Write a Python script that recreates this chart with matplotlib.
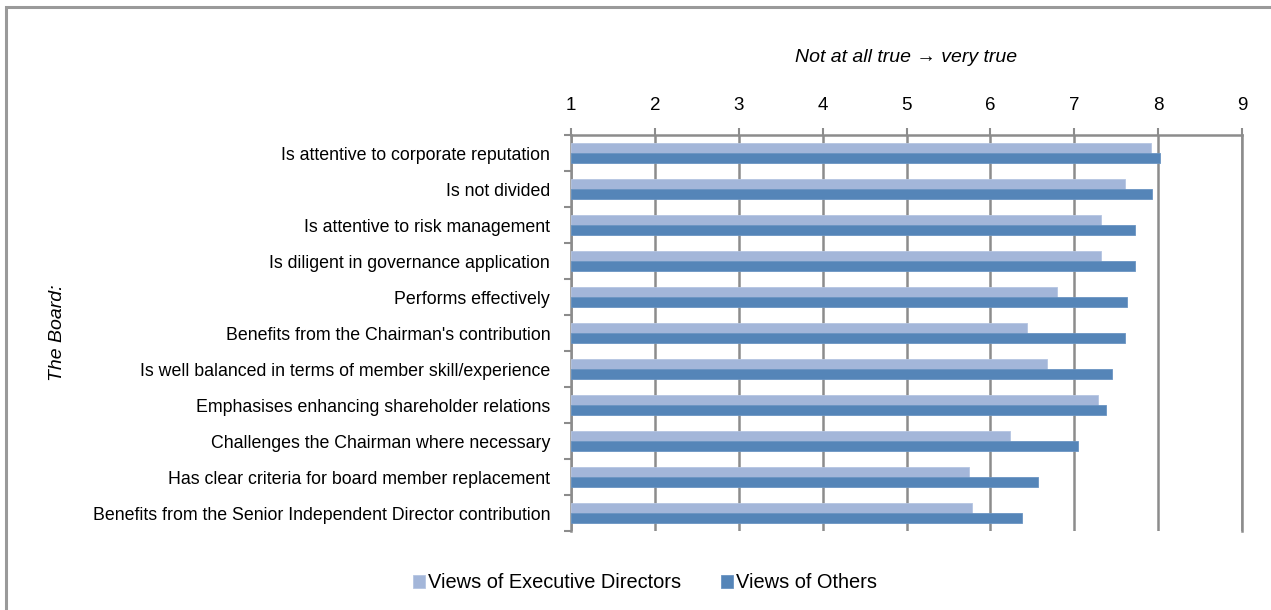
import matplotlib.pyplot as plt
import numpy as np
from matplotlib.patches import Rectangle

# ---- data ----
statements = [
    "Is attentive to corporate reputation",
    "Is not divided",
    "Is attentive to risk management",
    "Is diligent in governance application",
    "Performs effectively",
    "Benefits from the Chairman's contribution",
    "Is well balanced in terms of member skill/experience",
    "Emphasises enhancing shareholder relations",
    "Challenges the Chairman where necessary",
    "Has clear criteria for board member replacement",
    "Benefits from the Senior Independent Director contribution",
]
exec_views = [7.92, 7.60, 7.32, 7.32, 6.80, 6.44, 6.68, 7.28, 6.23, 5.75, 5.78]
other_views = [8.02, 7.93, 7.73, 7.72, 7.63, 7.60, 7.45, 7.38, 7.04, 6.57, 6.38]
series_names = ["Views of Executive Directors", "Views of Others"]
scale_ticks = [1, 2, 3, 4, 5, 6, 7, 8, 9]

light = "#A3B6D9"
dark = "#5585B8"
grey = "#8C8C8C"

plt.rcParams['font.family'] = ['Liberation Sans', 'DejaVu Sans']

fig = plt.figure(figsize=(12.71, 6.10), dpi=100)
# outer chart border (only left and top edges visible in the crop)
fig.patches.append(Rectangle((6 / 1271, -0.1), 1.2, 1 - 7 / 610 + 0.1,
                             transform=fig.transFigure, fill=False,
                             edgecolor="#9A9A9A", linewidth=2.2, zorder=0))

ax = fig.add_axes([571 / 1271, 1 - 531 / 610, (1242 - 571) / 1271, (531 - 135) / 610])

y = np.arange(len(statements))
h = 0.275
ax.barh(y - h / 2, np.array(exec_views) - 1, left=1, height=h, color=light,
        edgecolor="#B5C5E2", linewidth=0.6, label=series_names[0], zorder=3)
ax.barh(y + h / 2, np.array(other_views) - 1, left=1, height=h, color=dark,
        edgecolor="#6A94C2", linewidth=0.6, label=series_names[1], zorder=3)

ax.set_xlim(1, 9)
ax.set_ylim(len(statements) - 0.5, -0.5)

ax.xaxis.tick_top()
ax.xaxis.set_label_position('top')
ax.set_xticks(scale_ticks)
ax.tick_params(axis='x', length=5, width=1.5, color=grey, labelsize=13.5, pad=10)
ax.set_xlabel("Not at all true \u2192 very true", fontsize=14, style='italic', labelpad=25)
ax.grid(axis='x', color=grey, linewidth=1.8, zorder=0)

# ticks between categories, labels on the centres
ax.set_yticks(np.arange(len(statements) + 1) - 0.5)
ax.set_yticklabels([])
ax.set_yticks(y, minor=True)
ax.set_yticklabels(statements, minor=True, fontsize=12.8)
ax.tick_params(axis='y', which='major', length=5, width=1.5, color=grey, direction='out')
ax.tick_params(axis='y', which='minor', length=0, pad=15)

ax.spines['bottom'].set_visible(False)
for side in ['left', 'top', 'right']:
    ax.spines[side].set_color(grey)
    ax.spines[side].set_linewidth(1.8)

fig.text(57 / 1271, 1 - 333 / 610, "The Board:", rotation=90, style='italic',
         fontsize=14, ha='center', va='center')

fig.legend(loc='center', bbox_to_anchor=(645 / 1271, 1 - 583 / 610), ncol=2,
           frameon=False, fontsize=14.4, handlelength=0.6, handleheight=0.6,
           handletextpad=0.15, columnspacing=2.0)

fig.savefig("out.png", dpi=100)
